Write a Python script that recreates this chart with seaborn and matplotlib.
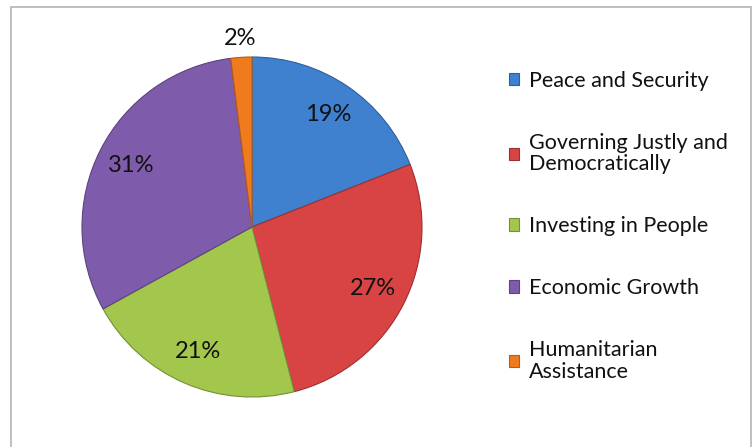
import matplotlib
matplotlib.use("Agg")
import matplotlib.pyplot as plt
import seaborn as sns
import numpy as np
from matplotlib.patches import Rectangle

categories = ["Peace and Security", "Governing Justly and\nDemocratically",
              "Investing in People", "Economic Growth", "Humanitarian\nAssistance"]
shares = [19, 27, 21, 31, 2]
colors = ["#3f80cf", "#d84444", "#a3c64c", "#7f5cab", "#f07b1e"]
edges = ["#2f5f99", "#9c3030", "#72913a", "#5c4280", "#b85a14"]

sns.set_theme(style="white")
plt.rcParams['font.family'] = ['Lato', 'DejaVu Sans']

fig = plt.figure(figsize=(7.54, 4.47), dpi=100)
W, H = 754, 447
# chart area border
fig.patches.append(Rectangle((11 / W, -0.05), 740 / W, (447 - 7) / H + 0.05,
                             transform=fig.transFigure, fill=False,
                             edgecolor="#b4b4b4", linewidth=1.2))

cx, cy, r = 252, 227, 170
half = 200
ax = fig.add_axes([(cx - half) / W, (H - cy - half) / H, 2 * half / W, 2 * half / H])
pal = sns.color_palette(colors)
wedges, texts, autotexts = ax.pie(shares, colors=pal, startangle=90, counterclock=False,
                                  autopct="%d%%", pctdistance=0.8,
                                  wedgeprops=dict(linewidth=0.8),
                                  textprops=dict(fontsize=17, color="#111111"))
for w, ec in zip(wedges, edges):
    w.set_edgecolor(ec)
# move the small slice label outside
w = wedges[-1]
ang = np.deg2rad((w.theta1 + w.theta2) / 2)
autotexts[-1].set_position((1.11 * np.cos(ang), 1.11 * np.sin(ang)))
lim = half / r
ax.set_xlim(-lim, lim)
ax.set_ylim(-lim, lim)
ax.set_aspect("equal")
ax.axis("off")

leg = fig.legend(wedges, categories, loc="upper left", bbox_to_anchor=(500 / W, 1 - 62 / H),
                 frameon=False, fontsize=15.5, handlelength=0.5, handleheight=0.5,
                 handletextpad=0.45, labelspacing=1.95, borderaxespad=0)
for t in leg.get_texts():
    t.set_color("#111111")
    t.set_linespacing(1.1)

fig.savefig("out.png", dpi=100)
